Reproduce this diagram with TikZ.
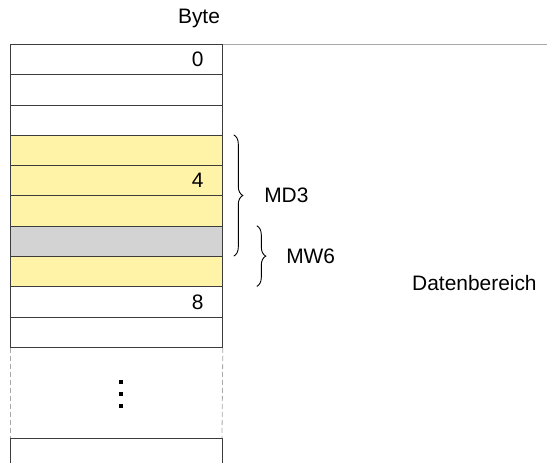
\documentclass[tikz,border=0pt]{standalone}
\usepackage{fontspec}
\setmainfont{Liberation Sans}
\usepackage{tikz}
\usetikzlibrary{decorations.pathreplacing}
\definecolor{rahmen}{HTML}{3C3C3C}
\definecolor{gelb}{HTML}{FFF3A8}
\definecolor{grau}{HTML}{D3D3D3}
\definecolor{linie}{HTML}{A8A8A8}

\tikzset{
  zelle/.style={draw=rahmen,rectangle,anchor=north west,minimum width=212bp,minimum height=30.3bp,inner sep=0pt,line width=0.8bp},
  klammer/.style={draw=black,line width=0.9bp,decorate,decoration={brace,amplitude=9bp}},
  punkt/.style={fill=black,rectangle,minimum size=3.5bp,inner sep=0pt},
  txt/.style={font=\fontsize{21}{24}\selectfont,inner sep=0pt}
}

\begin{document}
\begin{tikzpicture}[x=1bp,y=-1bp]
\useasboundingbox (0,0) rectangle (547,463);
\node[txt] (byte) at (199,18) {Byte};
\draw[linie,line width=0.8bp] (222,44) -- (547,44);
\node[zelle] (z0) at (10,44) {};
\node[zelle] (z1) at (10,74.3) {};
\node[zelle] (z2) at (10,104.6) {};
\node[zelle,fill=gelb] (z3) at (10,134.9) {};
\node[zelle,fill=gelb] (z4) at (10,165.2) {};
\node[zelle,fill=gelb] (z5) at (10,195.5) {};
\node[zelle,fill=grau] (z6) at (10,225.8) {};
\node[zelle,fill=gelb] (z7) at (10,256.1) {};
\node[zelle] (z8) at (10,286.4) {};
\node[zelle] (z9) at (10,316.7) {};
\node[txt,anchor=east] (n0) at ([xshift=-19bp]z0.east) {0};
\node[txt,anchor=east] (n4) at ([xshift=-19bp]z4.east) {4};
\node[txt,anchor=east] (n8) at ([xshift=-19bp]z8.east) {8};
% Luecke
\coordinate (ul) at (10,438);
\coordinate (ur) at (222,438);
\draw[linie,line width=0.8bp,dash pattern=on 5bp off 3bp] (z9.south west) -- (ul);
\draw[linie,line width=0.8bp,dash pattern=on 5bp off 3bp] (z9.south east) -- (ur);
\node[punkt] (p1) at (121,382) {};
\node[punkt] (p2) at (121,394) {};
\node[punkt] (p3) at (121,406) {};
\draw[rahmen,line width=0.8bp] (10,470) -- (ul) -- (ur) -- (222,470);
% Klammern
\draw[klammer] ([xshift=11bp]z3.north east) -- ([xshift=11bp]z7.north east) node[txt,midway,anchor=west,xshift=30bp] (md3) {MD3};
\draw[klammer] ([xshift=34bp]z6.north east) -- ([xshift=34bp]z8.north east) node[txt,midway,anchor=west,xshift=29bp] (mw6) {MW6};
\node[txt,anchor=west] (daten) at (412,283) {Datenbereich};
\end{tikzpicture}
\end{document}
